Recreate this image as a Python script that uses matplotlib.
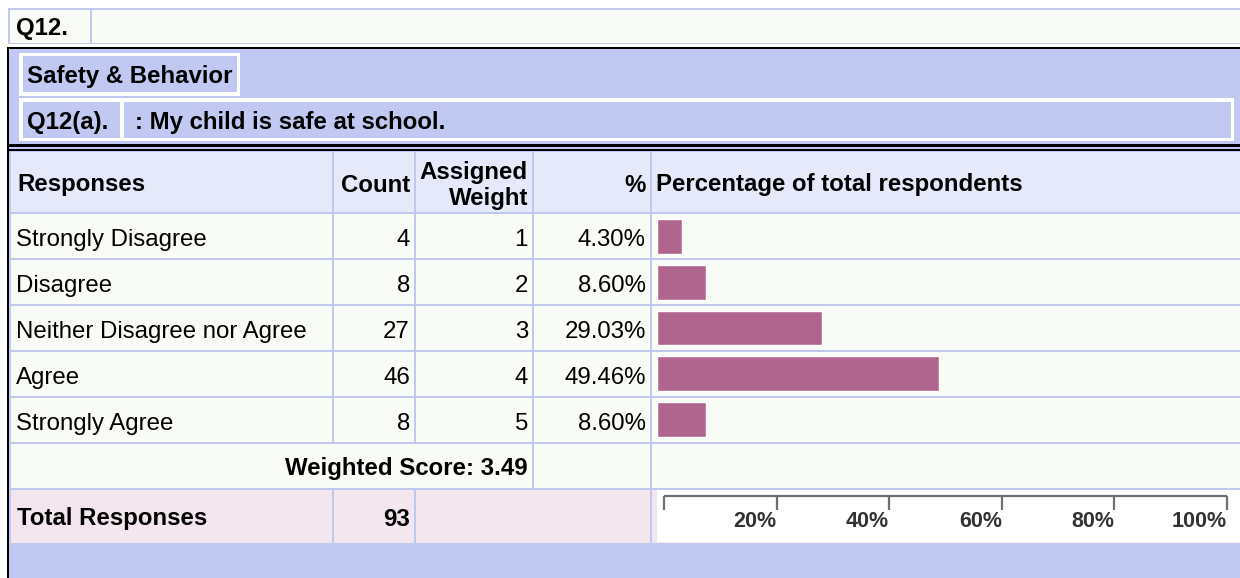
import matplotlib
matplotlib.use("Agg")
import matplotlib.pyplot as plt
from matplotlib.patches import Rectangle

responses = ["Strongly Disagree", "Disagree", "Neither Disagree nor Agree",
             "Agree", "Strongly Agree"]
counts = [4, 8, 27, 46, 8]
weights = [1, 2, 3, 4, 5]
percents = [4.30, 8.60, 29.03, 49.46, 8.60]
weighted_score = 3.49
total_responses = 93
scale_ticks = [0, 20, 40, 60, 80, 100]
scale_labels = ["", "20%", "40%", "60%", "80%", "100%"]

# Colours
BORDER = "#C0C8F0"
LAVENDER = "#C1C9F2"
HEADER = "#E6E9FA"
ROW = "#F9FBF6"
TOTAL = "#F4E6EE"
BAR = "#B0658F"

W, H = 1240, 578
plt.rcParams['font.family'] = ['Liberation Sans', 'DejaVu Sans']
FS = 17.3

fig = plt.figure(figsize=(W / 100, H / 100), dpi=100)
ax = fig.add_axes([0, 0, 1, 1])
ax.set_xlim(0, W)
ax.set_ylim(H, 0)
ax.axis("off")


def box(x0, y0, x1, y1, color):
    ax.add_patch(Rectangle((x0, y0), x1 - x0, y1 - y0, facecolor=color,
                           edgecolor="none", linewidth=0))


def px_axes(x0, y0, x1, y1):
    return fig.add_axes([x0 / W, 1 - y1 / H, (x1 - x0) / W, (y1 - y0) / H])


def txt(x, y, s, ha="left", bold=False, **kw):
    # y is the visual middle of the capitals; place on a baseline below it
    ax.text(x, y + 9, s, ha=ha, va="baseline", fontsize=FS,
            fontweight="bold" if bold else "normal", color="black", **kw)


# Q12 header row
box(8, 8, W, 44, BORDER)
box(10, 10, 89.5, 42.5, ROW)
box(91.5, 10, W, 42.5, ROW)
txt(16, 25.5, "Q12.", bold=True)

# outer section (lavender with black left/top rules)
box(9, 48.5, W, H, LAVENDER)
box(7, 46.5, W, 48.5, "black")
box(7, 46.5, 9, H, "black")

# Safety & Behavior box
box(19, 52.5, 240, 95.5, "white")
box(22.5, 56, 236.5, 92, LAVENDER)
txt(27, 73.5, "Safety & Behavior", bold=True)

# Q12(a) question row
box(19, 98, 1234, 141, "white")
box(22.5, 102, 120, 137.5, LAVENDER)
box(123.5, 102, 1230.5, 137.5, LAVENDER)
txt(27, 119.5, "Q12(a).", bold=True)
txt(135, 119.5, ": My child is safe at school.", bold=True)

# double black rule
box(7, 144, W, 146.5, "black")
box(7, 148.7, W, 150.7, "black")

# data table grid
box(9, 151, W, 545, BORDER)
cols = [(11, 332), (334, 414), (416, 532), (534, 650), (652, W)]
header_y = (152, 212)
row_y = [(214 + 46 * i, 258 + 46 * i) for i in range(len(responses))]
weighted_y = (444, 488)
total_y = (490, 543)

for x0, x1 in cols:
    box(x0, header_y[0], x1, header_y[1], HEADER)
    for y0, y1 in row_y:
        box(x0, y0, x1, y1, ROW)

# header text
hy = (header_y[0] + header_y[1]) / 2 + 0.5
txt(17, hy, "Responses", bold=True)
txt(410, hy, "Count", ha="right", bold=True)
txt(528, hy - 13, "Assigned", ha="right", bold=True)
txt(528, hy + 13, "Weight", ha="right", bold=True)
txt(646, hy, "%", ha="right", bold=True)
txt(656, hy, "Percentage of total respondents", bold=True)

# data rows text
for (y0, y1), r, c, w, p in zip(row_y, responses, counts, weights, percents):
    cy = (y0 + y1) / 2 + 1
    txt(16, cy, r)
    txt(410, cy, str(c), ha="right")
    txt(528, cy, str(w), ha="right")
    txt(646, cy, f"{p:.2f}%", ha="right")

# weighted score row
box(11, weighted_y[0], 532, weighted_y[1], ROW)
box(534, weighted_y[0], 650, weighted_y[1], ROW)
box(652, weighted_y[0], W, weighted_y[1], ROW)
txt(528, (weighted_y[0] + weighted_y[1]) / 2,
    f"Weighted Score: {weighted_score:.2f}", ha="right", bold=True)

# total row
ty = (total_y[0] + total_y[1]) / 2
box(11, total_y[0], 332, total_y[1], TOTAL)
box(334, total_y[0], 414, total_y[1], TOTAL)
box(416, total_y[0], 650, total_y[1], TOTAL)
box(652, total_y[0], W, total_y[1], TOTAL)
box(657, total_y[0], W, total_y[1] - 1, "white")
txt(17, ty, "Total Responses", bold=True)
txt(410, ty, str(total_responses), ha="right", bold=True)

# bars in the percentage column
bax = px_axes(657, row_y[0][0], 1227, row_y[-1][1])
bax.barh(range(len(percents)), percents, height=0.76, left=0,
         color=BAR, edgecolor="white", linewidth=1.0)
bax.set_xlim(0, 100)
bax.set_ylim(len(percents) - 0.5, -0.5)
bax.axis("off")
bax.patch.set_alpha(0)

# percentage scale under the bars
sax = px_axes(664, total_y[0], 1227, total_y[1])
sax.set_xlim(0, 100)
sax.set_ylim(1, 0)
sax.axis("off")
sax.patch.set_alpha(0)
line_y, tick_y = 0.12, 0.38
sax.plot([scale_ticks[0], scale_ticks[-1]], [line_y, line_y],
         color="#6E6E6E", lw=1.6, clip_on=False, solid_capstyle="butt")
for t, lab in zip(scale_ticks, scale_labels):
    sax.plot([t, t], [line_y, tick_y], color="#6E6E6E", lw=1.6,
             clip_on=False, solid_capstyle="butt")
    sax.text(t, 0.6, lab, ha="right", va="center", fontsize=15.5,
             fontweight="bold", color="#333333", clip_on=False)

fig.savefig("out.png", dpi=100)
